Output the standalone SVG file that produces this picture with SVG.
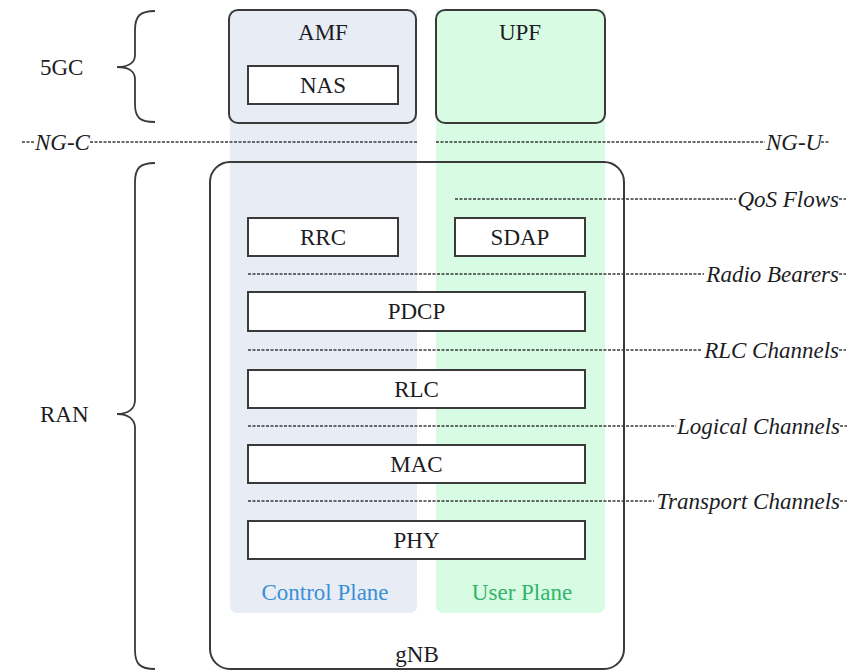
<svg xmlns="http://www.w3.org/2000/svg" width="852" height="672" viewBox="0 0 852 672">
<style>
text{font-family:'Liberation Serif','Times New Roman',Tinos,'DejaVu Serif',serif;font-size:23px;fill:#1c1c24}
.c{text-anchor:middle}
.it{font-style:italic}
.e{text-anchor:end}
.box{fill:#fff;stroke:#3a3a3a;stroke-width:2}
.rbox{stroke:#3a3a3a;stroke-width:2}
.dash{stroke:#3a3a3a;stroke-width:1.3;stroke-dasharray:3 1.5;fill:none}
.brace{fill:none;stroke:#3a3a3a;stroke-width:1.8}
</style>
<rect width="852" height="672" fill="#fff"/>
<g id="planes">
<path d="M230,10 H417 V605 Q417,613 409,613 H238 Q230,613 230,605 Z" fill="#e8edf5"/>
<path d="M436,10 H605 V605 Q605,613 597,613 H444 Q436,613 436,605 Z" fill="#d7fbe3"/>
</g>
<g id="amf">
<rect class="rbox" x="229" y="10" width="187" height="113" rx="9" fill="#e8edf5"/>
<text class="c" x="323" y="40" font-family="Liberation Serif, serif">AMF</text>
</g>
<g id="nas">
<rect class="box" x="248" y="66" width="150" height="38"/>
<text class="c" x="323" y="93" font-family="Liberation Serif, serif">NAS</text>
</g>
<g id="upf">
<rect class="rbox" x="436" y="10" width="169" height="113" rx="9" fill="#d7fbe3"/>
<text class="c" x="520" y="40" font-family="Liberation Serif, serif">UPF</text>
</g>
<g id="braces">
<path class="brace" d="M155,11 C140,11 135,16 135,30 L135,55 C135,63 128,67 117,67 C128,67 135,71 135,79 L135,104 C135,118 140,122 155,122"/>
<text x="40" y="75" font-family="Liberation Serif, serif">5GC</text>
<path class="brace" d="M155,163 C140,163 135,168 135,182 L135,400 C135,409 128,414 117,414 C128,414 135,419 135,428 L135,650 C135,664 140,669 155,669"/>
<text x="40" y="422" font-family="Liberation Serif, serif">RAN</text>
</g>
<g id="gnb">
<rect x="210" y="162" width="414" height="507" rx="20" fill="none" stroke="#3a3a3a" stroke-width="2"/>
<text class="c" x="417" y="662" font-family="Liberation Serif, serif">gNB</text>
</g>
<g id="connectors">
<path class="dash" d="M22,142 H34 M90,142 H417"/>
<path class="dash" d="M436,142 H765 M821,142 H829"/>
<path class="dash" d="M455,199 H736 M839,199 H846"/>
<path class="dash" d="M248,274 H704 M839,274 H846"/>
<path class="dash" d="M248,350 H702 M839,350 H846"/>
<path class="dash" d="M248,426 H676 M840,426 H847"/>
<path class="dash" d="M248,501 H654 M840,501 H847"/>
</g>
<g id="labels" font-family="Liberation Serif, serif">
<text class="it" x="35" y="150" font-family="Liberation Serif, serif">NG-C</text>
<text class="it" x="766" y="150" font-family="Liberation Serif, serif">NG-U</text>
<text class="it e" x="839" y="207" font-family="Liberation Serif, serif">QoS Flows</text>
<text class="it e" x="839" y="282" font-family="Liberation Serif, serif">Radio Bearers</text>
<text class="it e" x="839" y="358" font-family="Liberation Serif, serif">RLC Channels</text>
<text class="it e" x="840" y="434" font-family="Liberation Serif, serif">Logical Channels</text>
<text class="it e" x="840" y="509" font-family="Liberation Serif, serif">Transport Channels</text>
</g>
<g id="rrc">
<rect class="box" x="248" y="218" width="150" height="38"/>
<text class="c" x="323" y="245" font-family="Liberation Serif, serif">RRC</text>
</g>
<g id="sdap">
<rect class="box" x="455" y="218" width="130" height="38"/>
<text class="c" x="520" y="245" font-family="Liberation Serif, serif">SDAP</text>
</g>
<g id="pdcp">
<rect class="box" x="248" y="292" width="337" height="39"/>
<text class="c" x="416.5" y="319" font-family="Liberation Serif, serif">PDCP</text>
</g>
<g id="rlc">
<rect class="box" x="248" y="370" width="337" height="38"/>
<text class="c" x="416.5" y="397" font-family="Liberation Serif, serif">RLC</text>
</g>
<g id="mac">
<rect class="box" x="248" y="445" width="337" height="38"/>
<text class="c" x="416.5" y="472" font-family="Liberation Serif, serif">MAC</text>
</g>
<g id="phy">
<rect class="box" x="248" y="521" width="337" height="38"/>
<text class="c" x="416.5" y="548" font-family="Liberation Serif, serif">PHY</text>
</g>
<g id="plane-labels">
<text class="c" x="325" y="600" font-family="Liberation Serif, serif" style="fill:#3b8fd6">Control Plane</text>
<text class="c" x="522" y="600" font-family="Liberation Serif, serif" style="fill:#34b46c">User Plane</text>
</g>
</svg>
